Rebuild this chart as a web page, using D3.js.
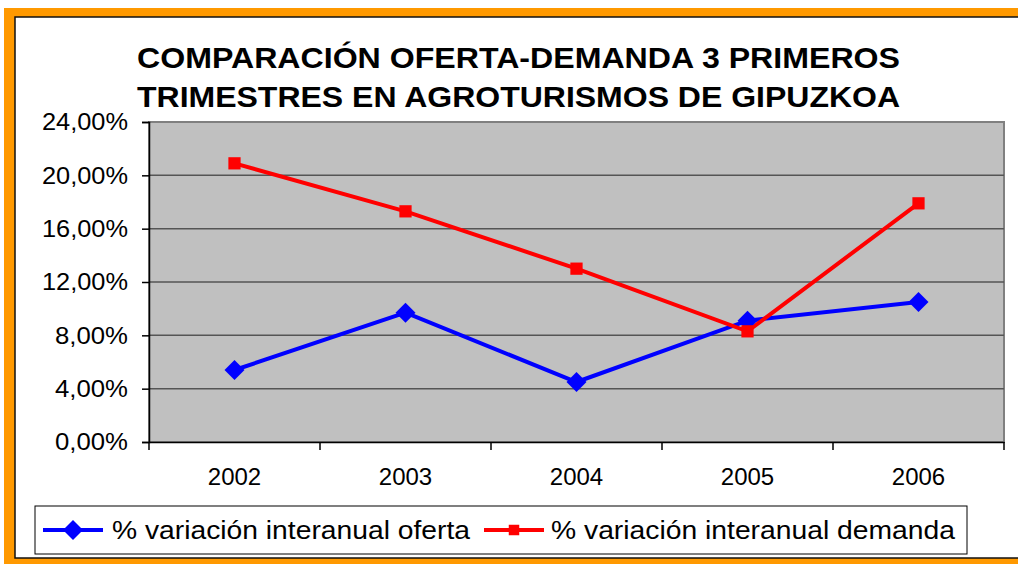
<!DOCTYPE html>
<html>
<head>
<meta charset="utf-8">
<script src="https://cdn.jsdelivr.net/npm/d3@7"></script>
<style>
  body { margin: 0; background: #fff; }
  svg { display: block; font-family: Arial, "Liberation Sans", sans-serif; }
</style>
</head>
<body>
<div id="chart"></div>
<script>
// DATA //
const years = ["2002", "2003", "2004", "2005", "2006"];
const oferta = [5.4, 9.7, 4.5, 9.1, 10.5];
const demanda = [20.9, 17.3, 13.0, 8.3, 17.9];
const yTicks = [0, 4, 8, 12, 16, 20, 24];
const titleLines = [
  "COMPARACIÓN OFERTA-DEMANDA 3 PRIMEROS",
  "TRIMESTRES EN AGROTURISMOS DE GIPUZKOA",
];
const seriesNames = [
  "% variación interanual oferta",
  "% variación interanual demanda",
];

// LAYOUT //
const width = 1018;
const height = 564;
const plot = { left: 149, right: 1004, top: 122, bottom: 442 };

const svg = d3
  .select("#chart")
  .append("svg")
  .attr("width", width)
  .attr("height", height);

// stretch a text to a given pixel width
function fitWidth(sel, w) {
  sel.attr("textLength", w).attr("lengthAdjust", "spacingAndGlyphs");
}

// Orange frame around the white chart area
svg
  .append("rect")
  .attr("x", 4)
  .attr("y", 8)
  .attr("width", width)
  .attr("height", height)
  .attr("fill", "#ff9900");
svg
  .append("rect")
  .attr("x", 15)
  .attr("y", 17)
  .attr("width", width)
  .attr("height", 541)
  .attr("fill", "#fff")
  .attr("stroke", "#111")
  .attr("stroke-width", 1.5);

// Title
const title = svg
  .append("g")
  .selectAll("text")
  .data(titleLines)
  .join("text")
  .attr("x", 137)
  .attr("y", (d, i) => 68 + i * 39)
  .attr("font-size", 30)
  .attr("font-weight", "bold")
  .attr("fill", "#000")
  .text((d) => d);
fitWidth(title, 763);

// SCALES //
const x = d3
  .scaleBand()
  .domain(years)
  .range([plot.left, plot.right]);
const y = d3
  .scaleLinear()
  .domain([0, 24])
  .range([plot.bottom, plot.top]);

// Plot background
svg
  .append("rect")
  .attr("x", plot.left)
  .attr("y", plot.top)
  .attr("width", plot.right - plot.left)
  .attr("height", plot.bottom - plot.top)
  .attr("fill", "#c0c0c0")
  .attr("stroke", "#808080")
  .attr("stroke-width", 2);

// Gridlines
svg
  .append("g")
  .selectAll("line")
  .data(yTicks.filter((d) => d > 0 && d < 24))
  .join("line")
  .attr("x1", plot.left)
  .attr("x2", plot.right)
  .attr("y1", (d) => y(d))
  .attr("y2", (d) => y(d))
  .attr("stroke", "#555")
  .attr("stroke-width", 1.5);

// Y axis
const yAxis = svg
  .append("g")
  .attr("transform", `translate(${plot.left},0)`)
  .call(
    d3
      .axisLeft(y)
      .tickValues(yTicks)
      .tickSize(7)
      .tickPadding(14)
      .tickFormat((d) => d3.format(".2f")(d).replace(".", ",") + "%")
  );
yAxis.select(".domain").attr("stroke", "#000").attr("stroke-width", 1.5);
yAxis.selectAll(".tick line").attr("stroke", "#000").attr("stroke-width", 1.5);
const yLabels = yAxis
  .selectAll(".tick text")
  .attr("font-size", 24)
  .attr("fill", "#000")
  .attr("font-family", "Arial, 'Liberation Sans', sans-serif");
yLabels.each(function () {
  const t = d3.select(this);
  fitWidth(t, t.text().length === 6 ? 86 : 73);
});

// X axis
const xAxis = svg
  .append("g")
  .attr("transform", `translate(0,${plot.bottom})`)
  .call(d3.axisBottom(x).tickSize(0).tickPadding(26));
xAxis.select(".domain").attr("stroke", "#000").attr("stroke-width", 1.5);
xAxis
  .selectAll(".tick text")
  .attr("font-size", 24)
  .attr("fill", "#000")
  .attr("font-family", "Arial, 'Liberation Sans', sans-serif");
// tick marks between categories
svg
  .append("g")
  .selectAll("line")
  .data(years.concat(["end"]))
  .join("line")
  .attr("x1", (d, i) => plot.left + i * x.step())
  .attr("x2", (d, i) => plot.left + i * x.step())
  .attr("y1", plot.bottom)
  .attr("y2", plot.bottom + 8)
  .attr("stroke", "#000")
  .attr("stroke-width", 1.5);

// LINES //
const cx = (d, i) => x(years[i]) + x.bandwidth() / 2;
const line = d3
  .line()
  .x(cx)
  .y((d) => y(d));

svg
  .append("path")
  .datum(oferta)
  .attr("d", line)
  .attr("fill", "none")
  .attr("stroke", "#0000ff")
  .attr("stroke-width", 4);
svg
  .append("path")
  .datum(demanda)
  .attr("d", line)
  .attr("fill", "none")
  .attr("stroke", "#ff0000")
  .attr("stroke-width", 4);

svg
  .append("g")
  .selectAll("path")
  .data(oferta)
  .join("path")
  .attr("transform", (d, i) => `translate(${cx(d, i)},${y(d)}) rotate(45)`)
  .attr("d", d3.symbol().type(d3.symbolSquare).size(200))
  .attr("fill", "#0000ff");
svg
  .append("g")
  .selectAll("path")
  .data(demanda)
  .join("path")
  .attr("transform", (d, i) => `translate(${cx(d, i)},${y(d)})`)
  .attr("d", d3.symbol().type(d3.symbolSquare).size(150))
  .attr("fill", "#ff0000");

// LEGEND //
const legend = svg.append("g");
legend
  .append("rect")
  .attr("x", 35)
  .attr("y", 506)
  .attr("width", 932)
  .attr("height", 48)
  .attr("fill", "#fff")
  .attr("stroke", "#000")
  .attr("stroke-width", 1);

const legendItems = [
  { name: seriesNames[0], color: "#0000ff", x0: 43, tx: 112, tw: 358, mark: "d" },
  { name: seriesNames[1], color: "#ff0000", x0: 484, tx: 551, tw: 404, mark: "s" },
];
const ly = 530;
legendItems.forEach((it) => {
  legend
    .append("line")
    .attr("x1", it.x0)
    .attr("x2", it.x0 + 60)
    .attr("y1", ly)
    .attr("y2", ly)
    .attr("stroke", it.color)
    .attr("stroke-width", 4);
  legend
    .append("path")
    .attr(
      "transform",
      `translate(${it.x0 + 30},${ly})` + (it.mark === "d" ? " rotate(45)" : "")
    )
    .attr("d", d3.symbol().type(d3.symbolSquare).size(it.mark === "d" ? 200 : 110))
    .attr("fill", it.color);
  const t = legend
    .append("text")
    .attr("x", it.tx)
    .attr("y", ly + 9)
    .attr("font-size", 25)
    .attr("fill", "#000")
    .text(it.name);
  fitWidth(t, it.tw);
});
</script>
</body>
</html>
